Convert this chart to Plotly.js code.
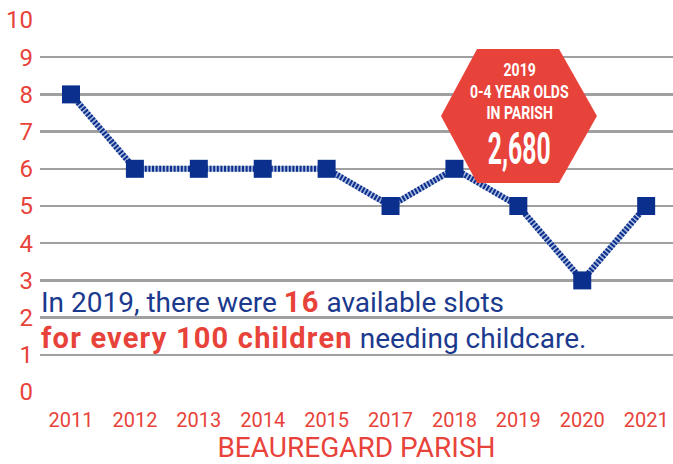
<!DOCTYPE html>
<html><head><meta charset="utf-8">
<script src="https://cdn.plot.ly/plotly-3.0.1.min.js"></script>
<style>html,body{margin:0;padding:0;background:#fff}</style>
</head><body><div id="c" style="width:673px;height:464px"></div>
<script>
const years = ["2011","2012","2013","2014","2015","2017","2018","2019","2020","2021"];
const slots = [8,6,6,6,6,5,6,5,3,5];
const yTicks = [0,1,2,3,4,5,6,7,8,9,10];
const badgeLines = ["2019", "0-4 YEAR OLDS", "IN PARISH"];
const badgeValue = "2,680";
const RED = "#e8433a", BLUE = "#0a2f8c", TXTBLUE = "#1b3a8e";
const FONT = "Roboto, sans-serif";

const W = 673, H = 464, ML = 40, MR = 0, MT = 20, MB = 72;
const PW = W - ML - MR, PH = H - MT - MB;
const px = v => (v - ML) / PW;
const py = v => 1 - (v - MT) / PH;

const traces = [
  {x: years, y: slots, type: "scatter", mode: "lines", hoverinfo: "skip",
   line: {color: "#aab8dc", width: 6}},
  {x: years, y: slots, type: "scatter", mode: "lines+markers",
   line: {color: BLUE, width: 6, dash: "2px,1.6px"},
   marker: {symbol: "square", size: 18, color: BLUE}}
];

const hexX = [441, 477, 559, 597, 559, 477];
const hexY = [116, 49, 49, 116, 183, 183];
let p = "";
hexX.forEach((x, i) => { p += (i ? " L" : "M") + px(x).toFixed(4) + "," + py(hexY[i]).toFixed(4); });
p += " Z";

const boldStyle = "color:" + RED + ";font-size:29px;letter-spacing:1.2px";
const badgeY = [69, 91, 112];
const annotations = [
  {xref: "paper", yref: "paper", x: px(39), y: py(283), xanchor: "left", yanchor: "top",
   align: "left", showarrow: false,
   text: "In 2019, there were <b><span style='" + boldStyle + "'>16</span></b> available slots<br><b><span style='" + boldStyle + "'>for every 100 children</span></b> needing childcare.",
   font: {family: FONT, size: 28, color: TXTBLUE}}
];
badgeLines.forEach((t, i) => annotations.push({
  xref: "paper", yref: "paper", x: px(519), y: py(badgeY[i]), xanchor: "center", yanchor: "middle",
  showarrow: false, text: "<b>" + t + "</b>", borderpad: 0,
  font: {family: FONT, size: 18, color: "#fff"}}));
annotations.push({xref: "paper", yref: "paper", x: px(519), y: py(148), xanchor: "center", yanchor: "middle",
  showarrow: false, text: "<b>" + badgeValue + "</b>", borderpad: 0,
  font: {family: FONT, size: 45, color: "#fff"}});

const layout = {
  width: W, height: H,
  margin: {l: ML, r: MR, t: MT, b: MB},
  paper_bgcolor: "#fff", plot_bgcolor: "#fff",
  showlegend: false,
  xaxis: {type: "category", range: [-0.485, 9.42], showgrid: false, zeroline: false,
    showline: false, ticks: "", ticklabelstandoff: 14,
    tickfont: {family: FONT, size: 20, color: RED},
    title: {text: "BEAUREGARD PARISH", font: {family: FONT, size: 28, color: RED}, standoff: 11}},
  yaxis: {range: [0, 10], tickvals: yTicks, showgrid: true, gridcolor: "#a0a0a0", gridwidth: 2.5,
    zeroline: false, showline: false, ticks: "", ticklabelstandoff: 6,
    tickfont: {family: FONT, size: 24, color: RED}},
  shapes: [{type: "path", xref: "paper", yref: "paper", path: p,
    fillcolor: RED, line: {width: 0}, layer: "above"}],
  annotations: annotations
};
Plotly.newPlot("c", traces, layout, {displayModeBar: false, staticPlot: true}).then(gd => {
  const texts = gd.querySelectorAll(".annotation-text");
  texts.forEach((t, i) => {
    if (i === 0) return;
    const s = (i === texts.length - 1) ? 0.55 : 0.78;
    const bb = t.getBBox();
    const cx = bb.x + bb.width / 2;
    t.setAttribute("transform", "translate(" + cx + ",0) scale(" + s + ",1) translate(" + (-cx) + ",0)");
  });
});
</script></body></html>
